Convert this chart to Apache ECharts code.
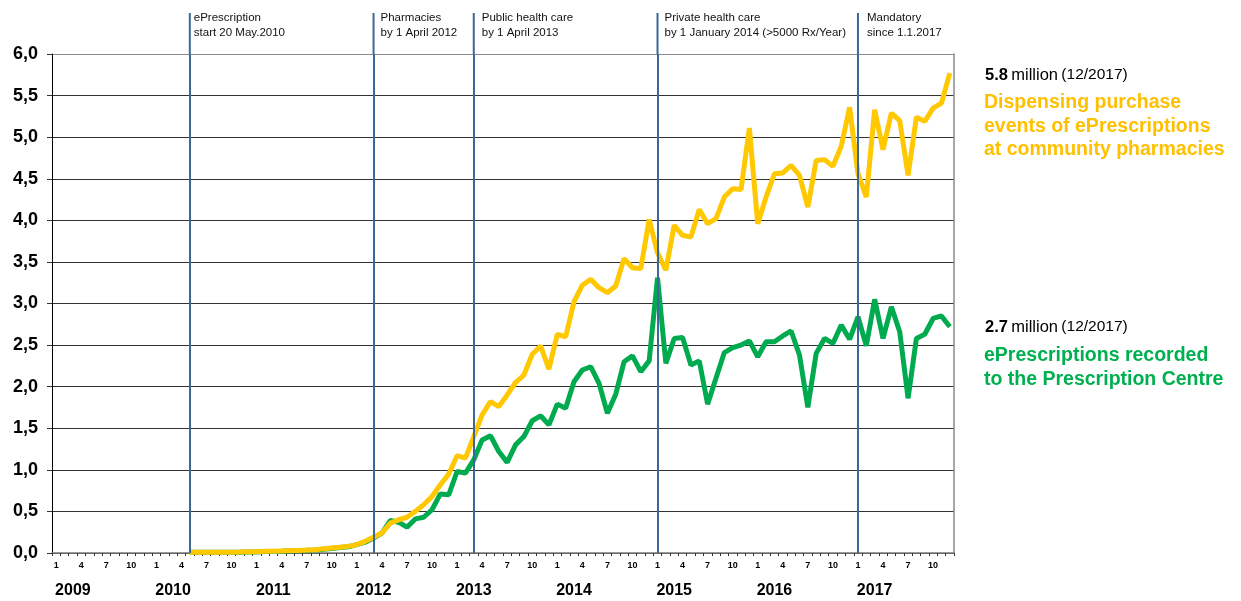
<!DOCTYPE html>
<html>
<head>
<meta charset="utf-8">
<script src="https://cdn.jsdelivr.net/npm/echarts@6/dist/echarts.min.js"></script>
<style>
  html, body { margin: 0; padding: 0; background: #fff; }
  #chart { width: 1241px; height: 601px; }
</style>
</head>
<body>
<div id="chart"></div>
<script>
// months Jan 2009 .. Dec 2017
const years = ['2009', '2010', '2011', '2012', '2013', '2014', '2015', '2016', '2017']
const monthNames = ['1', '2', '3', '4', '5', '6', '7', '8', '9', '10', '11', '12']
const categories = []
years.forEach(y => monthNames.forEach(m => categories.push(m)))

// both series start May 2010 (index 16), million per month
const startIndex = 16
const dispensing = [
  0.01, 0.01, 0.01, 0.01, 0.01, 0.01, 0.012, 0.015,                              // 2010 May-Dec
  0.015, 0.02, 0.02, 0.025, 0.03, 0.03, 0.035, 0.04, 0.05, 0.06, 0.07, 0.08,      // 2011
  0.10, 0.14, 0.19, 0.24, 0.36, 0.40, 0.43, 0.50, 0.58, 0.68, 0.82, 0.95,         // 2012
  1.17, 1.14, 1.40, 1.66, 1.82, 1.76, 1.90, 2.05, 2.14, 2.39, 2.49, 2.21,         // 2013
  2.63, 2.60, 3.02, 3.22, 3.29, 3.19, 3.13, 3.21, 3.54, 3.43, 3.42, 4.01,         // 2014
  3.61, 3.40, 3.94, 3.82, 3.80, 4.13, 3.96, 4.02, 4.28, 4.38, 4.37, 5.11,         // 2015
  3.96, 4.28, 4.56, 4.57, 4.66, 4.54, 4.16, 4.72, 4.73, 4.65, 4.89, 5.36,         // 2016
  4.56, 4.28, 5.33, 4.85, 5.29, 5.20, 4.54, 5.24, 5.19, 5.35, 5.41, 5.77          // 2017
]
const recorded = [
  0.008, 0.008, 0.008, 0.008, 0.008, 0.008, 0.01, 0.012,
  0.013, 0.017, 0.018, 0.022, 0.027, 0.028, 0.032, 0.037, 0.046, 0.055, 0.065, 0.075,
  0.10, 0.13, 0.18, 0.24, 0.39, 0.37, 0.31, 0.41, 0.43, 0.52, 0.71, 0.70,
  0.98, 0.96, 1.12, 1.36, 1.41, 1.22, 1.09, 1.30, 1.40, 1.59, 1.65, 1.54,
  1.79, 1.74, 2.06, 2.20, 2.24, 2.04, 1.68, 1.91, 2.30, 2.37, 2.18, 2.31,
  3.31, 2.28, 2.58, 2.59, 2.26, 2.31, 1.79, 2.10, 2.41, 2.47, 2.50, 2.55,
  2.36, 2.54, 2.54, 2.61, 2.67, 2.38, 1.75, 2.40, 2.58, 2.52, 2.74, 2.57,
  2.84, 2.49, 3.05, 2.58, 2.96, 2.66, 1.86, 2.58, 2.63, 2.82, 2.85, 2.72
]

// milestones (category index of the month) and their captions
const milestoneIndex = [16, 38, 50, 72, 96]
const milestoneText = [
  ['ePrescription', 'start 20 May.2010'],
  ['Pharmacies', 'by 1 April 2012'],
  ['Public health care', 'by 1 April 2013'],
  ['Private health care', 'by 1 January 2014 (>5000 Rx/Year)'],
  ['Mandatory', 'since 1.1.2017']
]
const captionGap = [4, 7, 8, 7, 9]

const pad = new Array(startIndex).fill(null)
const dispensingData = pad.concat(dispensing)
const recordedData = pad.concat(recorded)

const FONT = 'Arial, "Liberation Sans", sans-serif'
const YELLOW = '#FFC800'
const GREEN = '#00AA4F'
const BLUE = '#3B6897'

const chart = echarts.init(document.getElementById('chart'), null, { renderer: 'canvas' })

const gridColors = new Array(12).fill('#333333').concat(['#8a8a8a'])

chart.setOption({
  animation: false,
  backgroundColor: '#ffffff',
  grid: { left: 52, right: 287, top: 54, bottom: 48 },
  xAxis: [
    {
      type: 'category',
      data: categories,
      boundaryGap: true,
      axisLine: { lineStyle: { color: '#7a7a7a', width: 1.5 } },
      axisTick: { show: true, interval: 0, length: 3, lineStyle: { color: '#333' } },
      axisLabel: {
        interval: i => i % 3 === 0,
        margin: 8,
        fontSize: 9,
        fontWeight: 'bold',
        color: '#000',
        fontFamily: FONT
      },
      splitLine: { show: false }
    },
    {
      type: 'category',
      data: categories,
      position: 'bottom',
      boundaryGap: true,
      axisLine: { show: false },
      axisTick: { show: false },
      axisLabel: {
        interval: i => i % 12 === 2,
        formatter: (v, i) => years[Math.floor(i / 12)],
        margin: 30,
        fontSize: 16,
        fontWeight: 'bold',
        color: '#000',
        fontFamily: FONT
      }
    }
  ],
  yAxis: [
    {
      type: 'value',
      min: 0,
      max: 6,
      interval: 0.5,
      axisLine: { show: true, lineStyle: { color: '#000', width: 1 } },
      axisTick: { show: true, length: 5, lineStyle: { color: '#333' } },
      axisLabel: {
        formatter: v => v.toFixed(1).replace('.', ','),
        margin: 14,
        fontSize: 18,
        fontWeight: 'bold',
        color: '#000',
        fontFamily: FONT
      },
      splitLine: { show: true, lineStyle: { color: gridColors, width: 1 } }
    },
    {
      type: 'value',
      position: 'right',
      min: 0,
      max: 6,
      axisLine: { show: true, lineStyle: { color: '#8a8a8a', width: 1.5 } },
      axisTick: { show: false },
      axisLabel: { show: false },
      splitLine: { show: false }
    }
  ],
  series: [
    {
      name: 'ePrescriptions recorded to the Prescription Centre',
      type: 'line',
      data: recordedData,
      showSymbol: false,
      lineStyle: { color: GREEN, width: 5 },
      itemStyle: { color: GREEN },
      markLine: {
        silent: true,
        symbol: 'none',
        label: { show: false },
        lineStyle: { color: BLUE, width: 2, type: 'solid' },
        data: milestoneIndex.map(i => ({ xAxis: i }))
      }
    },
    {
      name: 'Dispensing purchase events of ePrescriptions at community pharmacies',
      type: 'line',
      data: dispensingData,
      showSymbol: false,
      lineStyle: { color: YELLOW, width: 5 },
      itemStyle: { color: YELLOW }
    }
  ]
})

// milestone captions above the plot, placed through the axis scale
const topY = chart.convertToPixel({ yAxisIndex: 0 }, 6)
const graphics = []
milestoneIndex.forEach((idx, k) => {
  const x = chart.convertToPixel({ xAxisIndex: 0 }, idx)
  graphics.push({
    type: 'line',
    silent: true,
    shape: { x1: x, y1: 13, x2: x, y2: topY },
    style: { stroke: BLUE, lineWidth: 2 }
  })
  graphics.push({
    type: 'text',
    silent: true,
    x: x + captionGap[k],
    y: 11,
    style: {
      text: milestoneText[k].join('\n'),
      font: '11.5px ' + FONT,
      fill: '#111',
      lineHeight: 14.5,
      textVerticalAlign: 'top'
    }
  })
})

// series notes on the right
const noteRich = {
  b: { font: 'bold 16.5px ' + FONT, fill: '#000' },
  n: { font: '16.5px ' + FONT, fill: '#000' },
  s: { font: '15.5px ' + FONT, fill: '#000' }
}
graphics.push({
  type: 'text', silent: true, x: 985, y: 75,
  style: { text: '{b|5.8} {n|million} {s|(12/2017)}', textVerticalAlign: 'middle', rich: noteRich }
})
graphics.push({
  type: 'text', silent: true, x: 984, y: 91,
  style: {
    text: 'Dispensing purchase\nevents of ePrescriptions\nat community pharmacies',
    font: 'bold 19.5px ' + FONT,
    fill: '#FFC000',
    lineHeight: 23.5,
    textVerticalAlign: 'top'
  }
})
graphics.push({
  type: 'text', silent: true, x: 985, y: 327,
  style: { text: '{b|2.7} {n|million} {s|(12/2017)}', textVerticalAlign: 'middle', rich: noteRich }
})
graphics.push({
  type: 'text', silent: true, x: 984, y: 344,
  style: {
    text: 'ePrescriptions recorded\nto the Prescription Centre',
    font: 'bold 19.5px ' + FONT,
    fill: '#00B050',
    lineHeight: 23.5,
    textVerticalAlign: 'top'
  }
})

chart.setOption({ graphic: graphics })
</script>
</body>
</html>
